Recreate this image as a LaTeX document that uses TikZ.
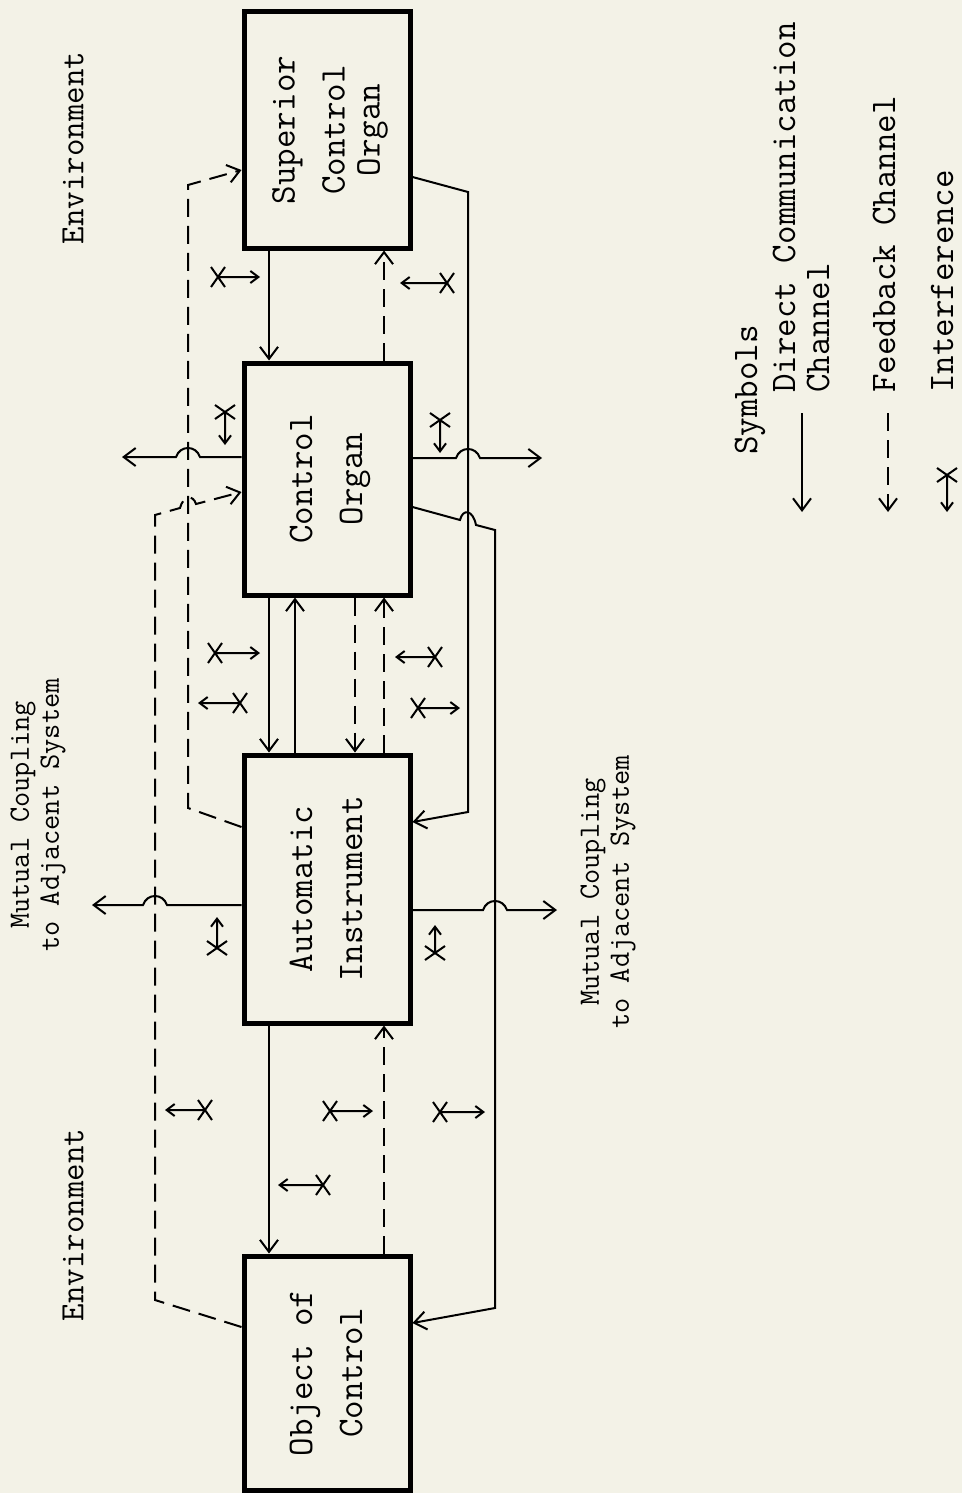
\documentclass[tikz,border=0pt]{standalone}
\usepackage{graphicx}
\usepackage{tikz}
\usetikzlibrary{arrows.meta,positioning}
\definecolor{paper}{RGB}{243,242,231}

\newcommand{\vtext}[1]{\rotatebox{90}{\begin{tabular}{@{}c@{}}#1\end{tabular}}}
\newcommand{\jam}[4]{\draw[noisy,shift={(#1,#2)},rotate=#3] (-7,-10) -- (7,10) (-7,10) -- (7,-10) (0,0) -- (#4,0);}

\begin{document}
\begin{tikzpicture}[x=1pt,y=-1pt,
  blk/.style={draw,line width=5pt,minimum width=166pt,inner sep=0pt,
              font=\ttfamily\fontsize{36}{50}\selectfont},
  chan/.style={line width=2pt,-{Straight Barb[length=12pt,width=18pt]}},
  fb/.style={chan,dash pattern=on 18pt off 9pt},
  noisy/.style={line width=2pt,-{Straight Barb[length=8pt,width=12pt]}},
  lbl/.style={rotate=90,inner sep=0pt,align=center,font=\ttfamily\fontsize{36}{34}\selectfont},
  small/.style={lbl,font=\ttfamily\fontsize{29.5}{30}\selectfont}]
\fill[paper] (0,0) rectangle (962,1493);
\useasboundingbox (0,0) rectangle (962,1493);

% organs
\node[blk,minimum height=236pt] (sco) at (327,130) {\vtext{Superior\\Control\\[-15pt]Organ}};
\node[blk,minimum height=232pt,below=110pt of sco] (co) {\vtext{Control\\Organ}};
\node[blk,minimum height=268pt,below=155pt of co] (ai) {\vtext{Automatic\\Instrument}};
\node[blk,minimum height=234pt,below=228pt of ai] (oc) {\vtext{Object of\\Control}};

\coordinate (da) at (269,0);
\coordinate (ub) at (295,0);
\coordinate (dc) at (355,0);
\coordinate (ud) at (384,0);

% channels between neighbouring organs
\draw[chan] (sco.south -| da) -- (co.north -| da);
\draw[fb] (co.north -| ud) -- (sco.south -| ud);
\draw[chan] (co.south -| da) -- (ai.north -| da);
\draw[chan] (ai.north -| ub) -- (co.south -| ub);
\draw[fb] (co.south -| dc) -- (ai.north -| dc);
\draw[fb] (ai.north -| ud) -- (co.south -| ud);
\draw[chan] (ai.south -| da) -- (oc.north -| da);
\draw[fb] (oc.north -| ud) -- (ai.south -| ud);

% channels that skip an organ
\draw[fb] ([yshift=62pt]ai.west) -- (188,808) -- (188,185) -- ([yshift=-40pt]sco.west);
\draw[fb] ([yshift=46pt]oc.west) -- (155,1300) -- (155,515) -- (180,508)
  .. controls (183,496) and (193,494) .. (196,504) -- ([yshift=-13pt]co.west);
\draw[chan] ([yshift=-47pt]sco.east) -- (468,192) -- (468,812) -- ([yshift=67pt]ai.east);
\draw[chan] ([yshift=-28pt]co.east) -- (460,520) .. controls (463,508) and (473,510) .. (476,525)
  -- (495,530) -- (495,1308) -- ([yshift=50pt]oc.east);

% coupling to adjacent systems
\draw[chan] ([yshift=22pt]co.west) -- (200,457) .. controls (196,445) and (180,445) .. (176,457) -- (122,457);
\draw[chan] ([yshift=21pt]co.east) -- (456,458) .. controls (460,446) and (476,446) .. (480,458) -- (542,458);
\draw[chan] ([yshift=-16pt]ai.west) -- (167,905) .. controls (163,893) and (147,893) .. (143,905) -- (92,905);
\draw[chan] ([yshift=-21pt]ai.east) -- (483,910) .. controls (487,898) and (503,898) .. (507,910) -- (557,910);

% interference
\jam{218}{277}{0}{42}
\jam{447}{283}{180}{47}
\jam{225}{412}{270}{33}
\jam{440}{420}{270}{33}
\jam{215}{653}{0}{45}
\jam{240}{703}{180}{42}
\jam{435}{657}{180}{40}
\jam{418}{708}{0}{42}
\jam{217}{948}{90}{31}
\jam{435}{953}{90}{28}
\jam{205}{1110}{180}{40}
\jam{330}{1111}{0}{43}
\jam{440}{1112}{0}{45}
\jam{323}{1185}{180}{45}

% labels
\node[lbl,font=\ttfamily\fontsize{34}{34}\selectfont] (envt) at (73,148) {Environment};
\node[lbl,font=\ttfamily\fontsize{34}{34}\selectfont] (envb) at (73,1225) {Environment};
\node[small] (mcl) at (38,815) {Mutual Coupling\\to Adjacent System};
\node[small] (mcr) at (608,892) {Mutual Coupling\\to Adjacent System};

% legend
\node[lbl] (sym) at (750,390) {Symbols};
\node[lbl,anchor=west,align=left] (dcc) at (801,393) {Direct Communication\\Channel};
\node[lbl,anchor=west,align=left] (fbc) at (884,393) {Feedback Channel};
\node[lbl,anchor=west,align=left] (itf) at (942,393) {Interference};
\draw[chan] (802,413) -- (802,512);
\draw[fb] (888,413) -- (888,512);
\jam{947}{475}{270}{37}
\end{tikzpicture}
\end{document}
